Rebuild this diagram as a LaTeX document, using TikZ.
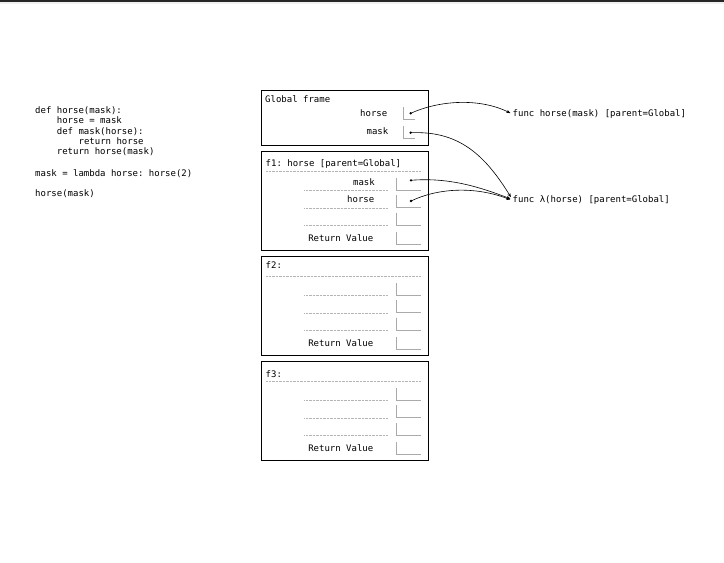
\documentclass[tikz,border=0pt]{standalone}
\usepackage{fontspec}
\setmonofont{DejaVu Sans Mono}
\usetikzlibrary{arrows.meta}
\definecolor{boxgray}{HTML}{AAAAAA}
\definecolor{rulegray}{HTML}{B4B4B4}

\begin{document}
\begin{tikzpicture}[x=1pt, y=-1pt, font=\ttfamily\fontsize{9}{10.4}\selectfont,
      frame/.style={draw, line width=0.8pt, anchor=north west, inner sep=0pt,
                    minimum width=167pt, minimum height=99pt},
      lbl/.style={anchor=mid east, inner sep=0pt},
      ttl/.style={anchor=mid west, inner sep=0pt},
      vbox/.style={draw=boxgray, line width=0.8pt},
      rowline/.style={draw=rulegray, line width=0.45pt, dash pattern=on 0.7pt off 0.7pt},
      ptr/.style={-{Stealth[length=4pt, width=3.2pt]}, line width=0.6pt, shorten >=1.2pt},
      obj/.style={anchor=mid west, inner sep=1pt}]
    \useasboundingbox (0,0) rectangle (724,563);
    \fill[black!85] (0,0) rectangle (724,1.5);
    \fill[black!6] (0,1.5) rectangle (724,4);

    % source code
    \node[anchor=north west, inner sep=0pt, align=left] (src) at (35,106.3)
      {def horse(mask):\\
       \hspace*{21.7pt}horse = mask\\
       \hspace*{21.7pt}def mask(horse):\\
       \hspace*{43.4pt}return horse\\
       \hspace*{21.7pt}return horse(mask)\\[11.4pt]
       mask = lambda horse: horse(2)\\[9.6pt]
       horse(mask)};

    % global frame
    \node[frame, minimum height=55pt] (global) at (260.5,89.5) {};
    \node[ttl] (gtitle) at (265,100.7) {Global frame};
    \node[lbl] (ghorse) at (387.5,114) {horse};
    \node[lbl] (gmask) at (388.5,132.7) {mask};
    \draw[vbox] (403.3,107) -- (403.3,119.7) -- (414.5,119.7);
    \draw[vbox] (403.3,125.7) -- (403.3,138.4) -- (414.5,138.4);
    \coordinate (gh) at (410.7,113.3);
    \coordinate (gm) at (410.7,132.7);

    % function frames
    \foreach \f/\name/\top/\ty in {f1/{f1: horse [parent=Global]}/150.5/164,
                                  f2/{f2:}/255.5/266.7,
                                  f3/{f3:}/360.5/375.5} {
      \node[frame] (\f) at (260.5,\top) {};
      \node[ttl] (\f title) at (265.5,\ty) {\name};
      \draw[rowline] (266,\top+20.5) -- (420.7,\top+20.5);
      \foreach \r in {40,57.3,74.8} {
        \draw[rowline] (304.3,\top+\r) -- (387.7,\top+\r);
        \draw[vbox] (396.7,\top+\r-12.7) -- (396.7,\top+\r) -- (421,\top+\r);
      }
      \node[lbl] (\f rv) at (373.5,\top+88.7) {Return Value};
      \draw[vbox] (396.7,\top+81) -- (396.7,\top+94) -- (421,\top+94);
    }
    \node[lbl] (fmask) at (375,183.3) {mask};
    \node[lbl] (fhorse) at (374.5,200.3) {horse};
    \coordinate (fm) at (411,180.3);
    \coordinate (fh) at (411,201);

    % objects
    \node[obj] (hfunc) at (511.5,114) {func horse(mask) [parent=Global]};
    \node[obj] (lfunc) at (511.5,200) {func λ(horse) [parent=Global]};

    % pointers
    \foreach \c in {gh,gm,fm,fh} \fill (\c) circle (1.3pt);
    \draw[ptr] (gh) .. controls (440,100) and (480,98) .. (hfunc.west);
    \draw[ptr] (gm) .. controls (455,131) and (482,150) .. ([yshift=1.5pt]lfunc.west);
    \draw[ptr] (fm) .. controls (450,177) and (482,188) .. ([yshift=0.5pt]lfunc.west);
    \draw[ptr] (fh) .. controls (438,188) and (475,186) .. ([yshift=-0.5pt]lfunc.west);
  \end{tikzpicture}
\end{document}
